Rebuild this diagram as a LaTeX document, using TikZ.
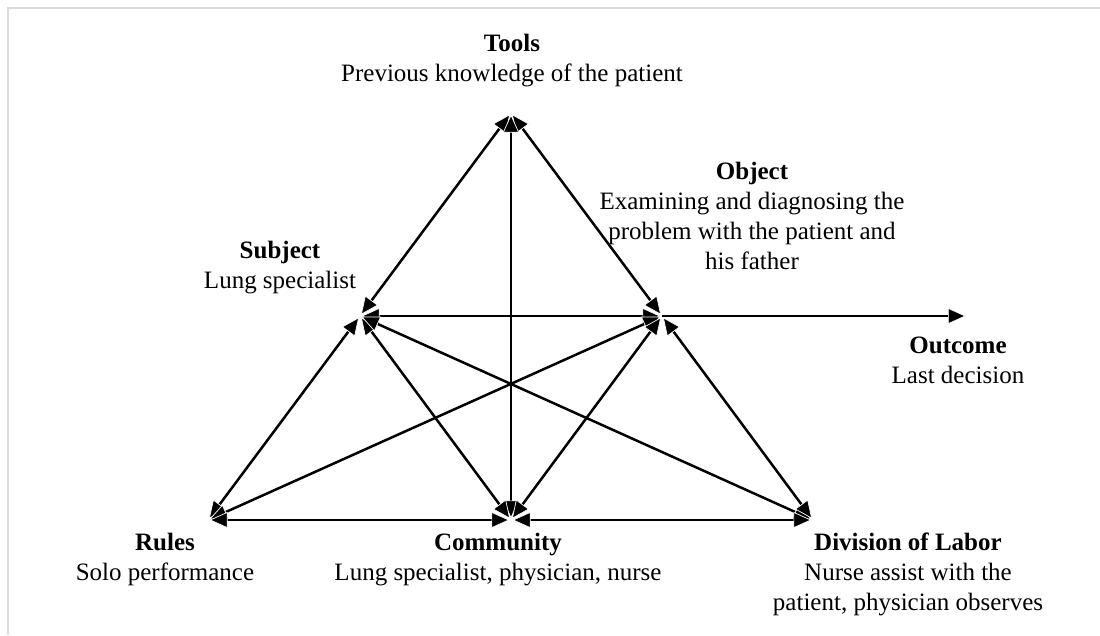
\documentclass[tikz,border=0pt]{standalone}
\usepackage{fontspec}
\setmainfont{Liberation Serif}
\usetikzlibrary{arrows.meta}

\begin{document}
\begin{tikzpicture}[x=1pt,y=-1pt,
  % filled head with a thin light rim so converging heads stay distinct
  tip/.tip={Triangle[length=18pt,width=16pt,line width=0.7pt,color=white,fill=black]},
  link/.style={line width=2.5pt, tip-tip, shorten <=1.5pt, shorten >=1.5pt},
  outlink/.style={line width=2.5pt, -tip},
  lbl/.style={align=center, anchor=north, inner sep=0pt,
              font=\fontsize{25}{30}\selectfont},
  frame/.style={draw=black!14, line width=2.5pt}]
\useasboundingbox (0,0) rectangle (1100,635);

% light page frame (top and left edges)
\draw[frame] (8,635) -- (8,8) -- (1100,8);

% corners and midpoints of the activity triangle
\coordinate (tools) at (511,113);
\coordinate (subj)  at (360,316);
\coordinate (obj)   at (662,316);
\coordinate (rules) at (208,520);
\coordinate (comm)  at (511,520);
\coordinate (div)   at (813,520);
\coordinate (outc)  at (966,316);

% labels
\node[lbl] (toolsL) at (512,34)  {\textbf{Tools}\\Previous knowledge of the patient};
\node[lbl] (subjL)  at (280,241) {\textbf{Subject}\\Lung specialist};
\node[lbl] (objL)   at (752,162) {\textbf{Object}\\Examining and diagnosing the\\problem with the patient and\\his father};
\node[lbl] (outcL)  at (958,337) {\textbf{Outcome}\\Last decision};
\node[lbl] (rulesL) at (165,533) {\textbf{Rules}\\Solo performance};
\node[lbl] (commL)  at (498,533) {\textbf{Community}\\Lung specialist, physician, nurse};
\node[lbl] (divL)   at (908,533) {\textbf{Division of Labor}\\Nurse assist with the\\patient, physician observes};

% mediating relations
\draw[link] (tools) -- (subj);
\draw[link] (tools) -- (obj);
\draw[link] (tools) -- (comm);
\draw[link] (subj) -- (obj);
\draw[outlink] (obj) -- (outc);
\draw[link] (subj) -- (rules);
\draw[link] (subj) -- (comm);
\draw[link] (subj) -- (div);
\draw[link] (obj) -- (rules);
\draw[link] (obj) -- (comm);
\draw[link] (obj) -- (div);
\draw[link] (rules) -- (comm);
\draw[link] (comm) -- (div);
\end{tikzpicture}
\end{document}
